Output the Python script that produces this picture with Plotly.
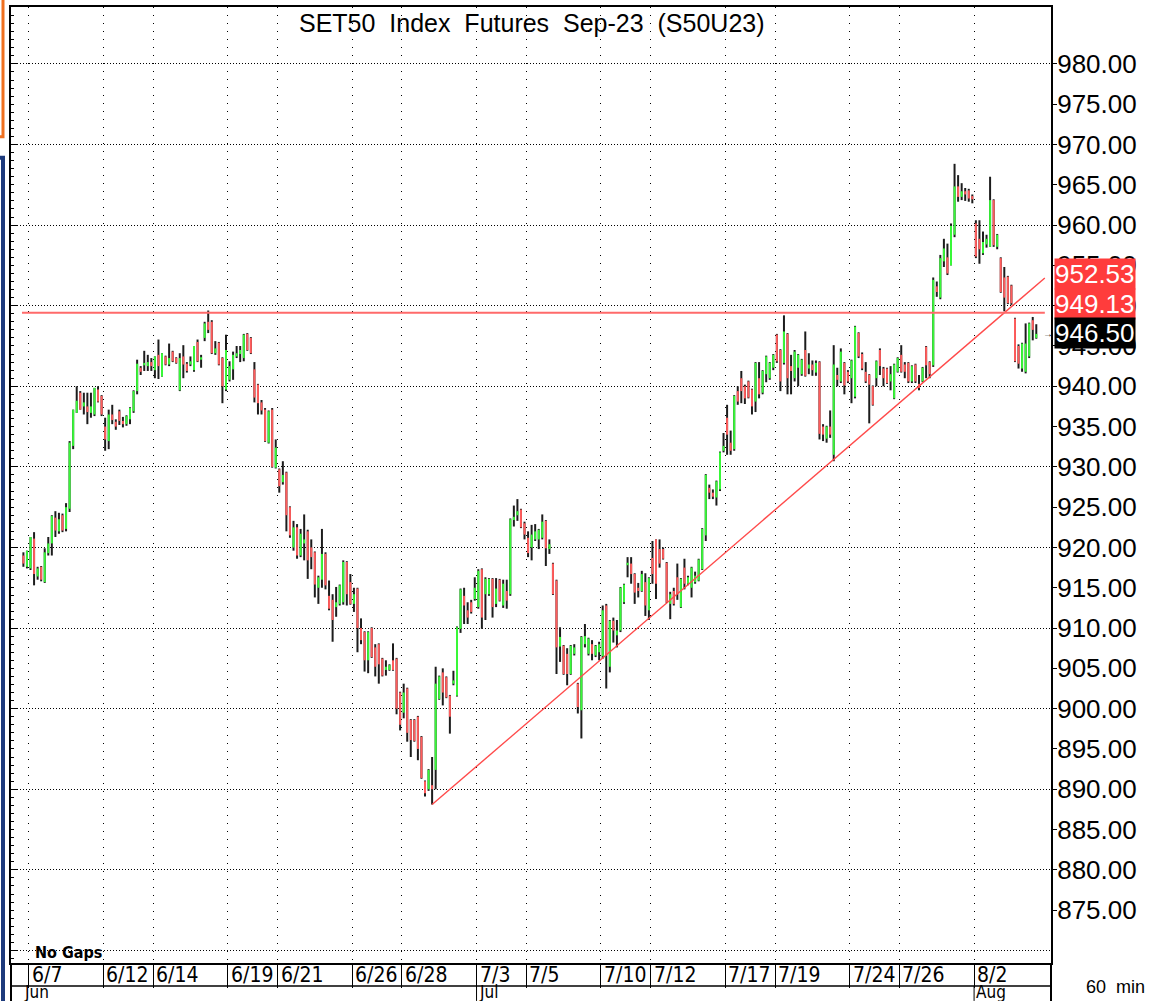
import plotly.graph_objects as go

# ---------------- data ----------------
trading_days = ["6/6", "6/7", "6/8", "6/9", "6/12", "6/13", "6/14", "6/15", "6/16",
                "6/19", "6/20", "6/21", "6/22", "6/23", "6/26", "6/27", "6/28", "6/29", "6/30",
                "7/3", "7/4", "7/5", "7/6", "7/7", "7/10", "7/11", "7/12", "7/13", "7/14",
                "7/17", "7/18", "7/19", "7/20", "7/21", "7/24", "7/25", "7/26", "7/27", "7/31",
                "8/2", "8/3", "8/4"]
bars_per_day = [2] + [7] * 40 + [4]
labeled_days = ["6/7", "6/12", "6/14", "6/19", "6/21", "6/26", "6/28", "7/3", "7/5",
                "7/10", "7/12", "7/17", "7/19", "7/24", "7/26", "8/2"]
month_names = ["Jun", "Jul", "Aug"]
month_first_days = ["6/6", "7/3", "8/2"]

opens = [
    919.0, 917.6,
    917.4, 921.1, 916.4, 917.6, 915.7, 919.3, 920.5,
    923.7, 922.0, 924.0, 922.3, 924.8, 932.6, 936.7,
    939.2, 937.5, 937.5, 936.7, 936.5, 939.6, 938.8,
    935.0, 933.2, 936.5, 935.6, 936.9, 935.7, 935.3,
    935.9, 936.9, 939.4, 942.3, 942.6, 942.5, 943.0,
    942.0, 943.9, 941.2, 943.7, 942.7, 944.3, 943.5,
    939.5, 943.7, 942.8, 942.7, 942.0, 945.5, 943.3,
    946.0, 948.0, 948.0, 944.1, 945.4, 943.5, 939.6,
    940.8, 942.1, 943.7, 944.0, 943.5, 946.5, 946.0,
    942.1, 940.2, 938.0, 937.1, 933.0, 937.1, 929.9,
    929.7, 928.1, 929.3, 925.0, 920.0, 922.5, 919.0,
    920.5, 922.0, 920.0, 919.4, 915.0, 916.0, 919.2,
    914.0, 913.5, 912.6, 913.0, 913.2, 918.2, 915.7,
    913.0, 914.9, 910.0, 909.5, 906.0, 910.0, 907.6,
    908.0, 906.2, 904.8, 904.8, 906.0, 906.2, 902.0,
    899.5, 902.5, 898.6, 898.6, 899.0, 896.5, 891.0,
    890.0, 890.5, 892.4, 901.2, 904.5, 903.9, 901.6,
    903.1, 901.6, 909.9, 914.0, 912.2, 913.2, 913.6,
    912.6, 917.3, 914.2, 914.2, 916.1, 913.0, 916.0,
    912.8, 914.6, 914.2, 923.4, 924.0, 924.7, 923.0,
    921.2, 920.0, 921.0, 921.0, 921.2, 923.3, 919.8,
    918.0, 915.9, 907.7, 907.8, 906.8, 904.3, 906.8,
    903.1, 899.8, 908.0, 906.8, 908.0, 906.6, 907.0,
    906.5, 912.8, 905.2, 910.9, 909.1, 909.7, 913.2,
    917.8, 918.0, 916.7, 915.0, 914.6, 915.7, 912.2,
    918.7, 921.0, 919.8, 919.8, 918.1, 913.0, 914.6,
    916.3, 912.6, 917.5, 915.5, 915.0, 915.7, 915.9,
    917.3, 921.5, 927.4, 926.8, 926.2, 927.2, 932.0,
    936.1, 933.0, 932.2, 939.4, 941.0, 940.0, 940.6,
    939.6, 938.1, 941.0, 939.2, 941.5, 941.0, 942.3,
    946.4, 944.5, 942.9, 946.5, 942.5, 941.0, 942.3,
    941.5, 944.5, 942.2, 942.7, 941.7, 943.0, 935.0,
    933.5, 935.0, 931.5, 941.4, 940.6, 942.9, 941.8,
    941.0, 938.7, 946.6, 944.0, 941.8, 941.4, 940.0,
    941.0, 944.5, 942.2, 942.2, 940.6, 938.5, 941.8,
    943.9, 942.7, 942.9, 940.6, 942.7, 940.3, 940.6,
    944.9, 943.0, 942.6, 952.4, 951.0, 955.5, 956.0,
    955.0, 958.8, 964.8, 963.5, 964.2, 964.3, 963.6,
    960.2, 958.3, 956.5, 957.6, 957.3, 963.1, 957.3,
    955.9, 953.5, 953.6, 952.5, 948.4, 945.0, 942.2,
    941.8, 943.7, 948.2, 946.0,
]
highs = [
    919.4, 919.6,
    921.3, 921.9, 917.6, 917.7, 919.9, 921.3, 924.0,
    924.5, 924.3, 924.2, 925.5, 933.2, 937.1, 940.0,
    939.4, 939.2, 939.2, 939.2, 939.8, 940.0, 938.9,
    936.1, 937.1, 937.7, 935.9, 937.1, 936.2, 936.4,
    937.4, 939.5, 943.3, 942.5, 944.4, 943.9, 943.5,
    943.7, 945.8, 944.1, 943.8, 945.3, 944.4, 943.6,
    944.1, 945.1, 943.0, 943.7, 945.0, 945.8, 943.9,
    948.0, 949.4, 948.2, 945.6, 945.5, 943.6, 946.4,
    943.1, 944.3, 945.0, 945.0, 946.5, 946.6, 946.1,
    943.0, 940.3, 938.3, 937.3, 937.0, 937.3, 933.4,
    929.8, 930.7, 929.4, 925.1, 923.3, 922.9, 922.3,
    924.1, 922.2, 921.0, 919.5, 916.5, 922.3, 919.4,
    915.9, 914.2, 915.1, 915.4, 918.4, 918.3, 916.7,
    915.0, 915.0, 911.2, 909.6, 909.6, 910.1, 908.0,
    908.1, 906.3, 906.0, 905.5, 908.1, 906.3, 902.1,
    903.1, 902.6, 898.7, 898.7, 899.1, 896.6, 891.1,
    892.5, 894.0, 905.2, 904.1, 905.0, 904.0, 901.7,
    904.7, 910.2, 914.9, 915.0, 913.2, 913.5, 916.3,
    917.3, 917.4, 916.3, 916.2, 916.2, 916.2, 916.1,
    916.0, 916.0, 923.6, 925.2, 926.0, 924.8, 923.2,
    922.0, 922.8, 922.9, 922.3, 924.1, 923.4, 921.0,
    918.1, 916.0, 910.1, 907.9, 907.5, 907.9, 908.0,
    903.2, 909.0, 910.5, 908.8, 908.5, 907.9, 908.3,
    912.8, 913.0, 911.0, 911.3, 911.0, 915.1, 915.5,
    918.8, 918.8, 916.8, 915.6, 917.1, 916.8, 916.3,
    920.8, 921.0, 921.0, 920.0, 918.2, 914.5, 915.0,
    918.0, 916.2, 918.6, 916.5, 917.6, 917.0, 918.6,
    922.4, 929.1, 927.8, 927.2, 928.3, 931.9, 934.2,
    937.7, 934.5, 938.9, 940.0, 941.9, 940.2, 940.7,
    939.7, 943.0, 943.0, 942.0, 943.8, 943.0, 944.0,
    946.5, 944.6, 948.8, 946.6, 943.9, 944.5, 944.0,
    943.4, 946.8, 944.1, 943.2, 943.2, 943.1, 935.3,
    935.1, 937.0, 945.1, 942.3, 944.7, 943.0, 942.0,
    943.3, 947.5, 946.7, 944.2, 943.0, 941.5, 940.1,
    943.2, 944.7, 942.4, 942.3, 942.5, 942.8, 943.6,
    945.1, 943.0, 943.0, 942.6, 942.8, 941.4, 942.4,
    945.0, 943.1, 953.5, 953.0, 956.3, 958.3, 957.7,
    960.2, 967.6, 966.2, 965.2, 964.6, 964.5, 963.8,
    960.6, 960.6, 959.2, 958.8, 966.0, 963.2, 958.9,
    956.0, 954.8, 953.7, 952.6, 948.5, 945.2, 945.4,
    947.8, 947.9, 948.6, 947.7,
]
lows = [
    917.6, 917.4,
    917.2, 915.3, 916.0, 915.8, 915.6, 919.0, 919.0,
    921.3, 921.7, 921.9, 922.0, 924.4, 932.2, 936.7,
    937.1, 936.5, 935.3, 936.1, 936.3, 938.0, 936.3,
    932.0, 932.2, 935.3, 934.6, 935.2, 934.9, 935.1,
    935.3, 936.7, 939.0, 941.4, 941.9, 941.9, 941.9,
    941.0, 940.9, 941.2, 942.6, 942.5, 943.0, 942.8,
    939.4, 941.0, 941.7, 942.5, 941.8, 943.0, 942.3,
    945.6, 946.6, 944.0, 943.9, 942.6, 937.9, 939.4,
    940.6, 940.8, 943.5, 943.0, 943.1, 944.4, 944.0,
    938.0, 936.5, 936.5, 933.1, 932.9, 929.9, 929.8,
    926.8, 927.8, 922.0, 921.2, 919.6, 918.6, 918.8,
    918.4, 916.1, 917.3, 913.8, 913.0, 915.0, 914.8,
    912.2, 908.3, 911.4, 912.8, 912.9, 912.8, 912.9,
    912.0, 907.0, 908.0, 904.6, 904.4, 906.3, 904.0,
    903.1, 904.0, 904.1, 904.7, 904.7, 899.3, 897.3,
    898.8, 895.9, 894.0, 895.9, 893.6, 891.3, 889.1,
    889.8, 888.1, 890.0, 901.1, 900.4, 901.3, 896.9,
    902.9, 901.5, 909.4, 910.5, 910.5, 911.8, 913.4,
    912.4, 909.9, 911.0, 914.0, 911.3, 912.6, 913.3,
    912.5, 912.4, 914.0, 922.6, 923.3, 922.4, 921.0,
    918.8, 918.4, 920.8, 919.8, 921.0, 917.7, 919.2,
    914.1, 904.3, 905.8, 904.2, 902.9, 904.2, 906.6,
    899.4, 896.3, 907.6, 906.6, 906.0, 906.4, 906.0,
    906.2, 902.5, 904.5, 908.2, 907.6, 909.5, 913.0,
    916.3, 915.5, 913.0, 913.8, 914.5, 911.5, 911.0,
    915.5, 913.6, 917.5, 918.5, 913.1, 911.1, 912.8,
    913.5, 912.5, 914.8, 915.3, 913.8, 915.5, 915.8,
    917.2, 920.8, 926.0, 926.0, 925.2, 927.0, 931.8,
    931.5, 931.5, 932.0, 937.7, 937.9, 937.8, 938.5,
    936.5, 936.8, 938.5, 939.0, 940.5, 940.8, 942.0,
    942.9, 939.4, 942.7, 939.0, 939.0, 940.6, 940.0,
    941.3, 941.2, 941.5, 941.3, 941.3, 933.4, 933.2,
    933.0, 933.6, 930.7, 940.0, 940.4, 939.0, 940.4,
    937.9, 938.5, 943.5, 942.0, 940.4, 935.4, 937.6,
    940.0, 941.4, 940.0, 940.3, 939.5, 938.4, 941.7,
    941.7, 941.0, 940.4, 940.4, 940.4, 939.5, 940.5,
    941.0, 941.0, 942.4, 951.1, 950.8, 954.8, 953.8,
    955.0, 958.5, 962.9, 963.1, 963.0, 962.9, 962.7,
    955.9, 955.2, 956.3, 957.2, 957.3, 957.3, 957.0,
    951.6, 949.3, 950.2, 950.1, 943.0, 942.2, 941.8,
    941.6, 943.5, 945.7, 945.9,
]
closes = [
    918.0, 919.6,
    921.3, 916.7, 917.4, 916.0, 919.4, 920.5, 923.9,
    922.1, 923.5, 922.1, 925.0, 933.0, 937.1, 938.2,
    937.1, 938.0, 936.8, 937.5, 939.8, 938.1, 936.5,
    933.4, 936.5, 935.8, 935.0, 935.7, 935.3, 936.3,
    937.3, 939.4, 942.8, 941.8, 942.9, 943.0, 942.5,
    943.7, 942.5, 944.1, 942.7, 943.5, 943.1, 942.9,
    943.5, 942.7, 941.9, 943.1, 945.0, 943.1, 943.6,
    947.8, 947.0, 944.1, 944.7, 942.7, 940.0, 944.5,
    942.5, 943.9, 944.1, 944.5, 946.4, 944.5, 944.1,
    938.6, 937.9, 937.0, 933.2, 936.9, 930.0, 932.4,
    927.6, 929.0, 924.0, 921.5, 922.5, 919.0, 921.7,
    921.0, 918.4, 918.8, 915.4, 916.3, 919.2, 915.3,
    912.4, 911.0, 913.2, 915.3, 918.2, 914.2, 913.0,
    914.2, 910.0, 908.5, 906.0, 909.5, 906.4, 905.2,
    905.5, 904.1, 905.2, 905.4, 904.8, 900.0, 898.0,
    902.0, 897.0, 896.1, 896.0, 895.0, 891.4, 889.5,
    892.4, 890.0, 903.1, 904.0, 902.0, 901.4, 899.0,
    903.5, 910.1, 914.8, 912.8, 911.3, 912.0, 915.0,
    917.1, 911.3, 916.1, 916.1, 912.6, 914.9, 913.4,
    915.5, 913.4, 923.5, 923.8, 924.5, 922.5, 921.6,
    919.3, 921.6, 922.0, 922.2, 923.2, 919.9, 920.4,
    914.2, 907.6, 908.9, 904.3, 904.3, 907.8, 907.6,
    900.2, 908.9, 909.0, 908.7, 906.8, 907.8, 908.0,
    912.2, 906.6, 910.9, 909.7, 909.7, 915.0, 915.4,
    918.1, 916.7, 914.4, 914.6, 916.7, 912.8, 916.2,
    916.7, 915.5, 918.0, 918.6, 913.2, 914.2, 913.0,
    914.2, 916.1, 915.5, 916.3, 917.5, 916.5, 918.5,
    922.3, 929.0, 926.8, 926.3, 928.2, 931.8, 932.6,
    934.0, 932.0, 938.8, 938.1, 939.4, 938.5, 938.6,
    937.5, 942.9, 939.0, 941.9, 943.7, 942.9, 943.9,
    943.1, 940.6, 946.8, 941.0, 941.9, 944.3, 943.9,
    943.3, 941.3, 942.7, 942.0, 942.9, 934.1, 934.0,
    935.0, 934.0, 942.7, 940.8, 944.3, 940.1, 940.6,
    943.2, 947.4, 943.7, 942.2, 940.6, 940.2, 937.7,
    943.1, 942.5, 941.0, 940.4, 941.5, 942.7, 943.5,
    941.8, 941.8, 940.6, 942.5, 940.6, 939.8, 942.3,
    942.6, 941.5, 953.2, 951.7, 955.9, 957.1, 954.0,
    959.9, 964.8, 963.5, 964.2, 963.8, 963.3, 963.2,
    956.1, 957.0, 957.9, 958.3, 963.1, 957.5, 958.8,
    951.7, 951.0, 950.3, 950.3, 943.1, 942.8, 945.3,
    945.3, 947.8, 947.0, 946.5,
]

resistance_level = 949.13
trend_anchor_bar = 115          # bar holding the 6/29 low
trend_anchor_price = 888.10
trend_last_value = 952.53       # trendline value at the last bar
last_price = 946.50
price_ticks = [875 + 5 * k for k in range(22)]   # 875 ... 980

# ---------------- geometry ----------------
W, H = 1155, 1001
ML, MR, MT, MB = 11, 104, 5, 38
PW, PH = W - ML - MR, H - MT - MB
PX_PER_BAR = 3.554
X0 = -(23.4 - ML) / PX_PER_BAR
X1 = X0 + PW / PX_PER_BAR
Y_TOP, Y_BOT = 987.06, 868.44


def pxx(px):
    return (px - ML) / PW


def pxy(py):
    return (H - MB - py) / PH


n = len(opens)
day_start = {}
p = 0
for d, k in zip(trading_days, bars_per_day):
    day_start[d] = p
    p += k

wick_x, wick_y, up_x, up_y, dn_x, dn_y = [], [], [], [], [], []
for i in range(n):
    wick_x += [i, i, None]
    wick_y += [lows[i], highs[i], None]
    if closes[i] >= opens[i]:
        up_x += [i, i, None]
        up_y += [opens[i], closes[i], None]
    else:
        dn_x += [i, i, None]
        dn_y += [opens[i], closes[i], None]

slope = (trend_last_value - trend_anchor_price) / ((n - 1) - trend_anchor_bar)
trend_end_x = n + 1.4
trend_end_y = trend_anchor_price + slope * (trend_end_x - trend_anchor_bar)

GREEN = "#38f838"
RED = "#ff5c5c"
WICK = "#1c1c1c"
LINE_RED = "#ff4a4a"
FONT = "Liberation Sans, Arial, sans-serif"
NARROW = "Liberation Sans Narrow, Arial Narrow, DejaVu Sans Condensed, sans-serif"

fig = go.Figure()
fig.add_trace(go.Scatter(x=wick_x, y=wick_y, mode="lines",
                         line=dict(color=WICK, width=2), hoverinfo="skip", showlegend=False))
fig.add_trace(go.Scatter(x=up_x, y=up_y, mode="lines",
                         line=dict(color=GREEN, width=2), hoverinfo="skip", showlegend=False))
fig.add_trace(go.Scatter(x=dn_x, y=dn_y, mode="lines",
                         line=dict(color=RED, width=2), hoverinfo="skip", showlegend=False))
fig.add_trace(go.Scatter(x=[-0.4, trend_end_x], y=[resistance_level, resistance_level],
                         mode="lines", line=dict(color="#ff6a6a", width=2),
                         yaxis="y2", hoverinfo="skip", showlegend=False))
fig.add_trace(go.Scatter(x=[trend_anchor_bar, trend_end_x], y=[trend_anchor_price, trend_end_y],
                         mode="lines", line=dict(color=LINE_RED, width=1.4),
                         hoverinfo="skip", showlegend=False))

bounds = [day_start[d] - 0.5 for d in labeled_days]

ROW_LINE = 986
shapes = []
# date row bottom line
shapes.append(dict(type="line", xref="paper", yref="paper", x0=0, x1=1,
                   y0=pxy(ROW_LINE), y1=pxy(ROW_LINE), line=dict(color="black", width=1.5)))
# borders extending down
for xp in (0, 1):
    shapes.append(dict(type="line", xref="paper", yref="paper", x0=xp, x1=xp,
                       y0=pxy(963), y1=pxy(1001), line=dict(color="black", width=2)))
# month dividers
for d in month_first_days[1:]:
    shapes.append(dict(type="line", xref="x", yref="paper", x0=day_start[d] - 0.5,
                       x1=day_start[d] - 0.5, y0=pxy(ROW_LINE), y1=pxy(1001),
                       line=dict(color="black", width=1)))
# window frame strips at far left
shapes.append(dict(type="rect", xref="paper", yref="paper", x0=pxx(-10), x1=pxx(3),
                   y0=pxy(135), y1=pxy(-10), line=dict(color="#f07020", width=3),
                   fillcolor="rgba(0,0,0,0)"))
shapes.append(dict(type="rect", xref="paper", yref="paper", x0=pxx(-10), x1=pxx(3),
                   y0=pxy(1010), y1=pxy(156), line=dict(color="#1d3a7c", width=4),
                   fillcolor="rgba(0,0,0,0)"))

annotations = []
annotations.append(dict(text="SET50\u00a0\u00a0Index\u00a0\u00a0Futures\u00a0\u00a0Sep-23\u00a0\u00a0(S50U23)",
                        xref="paper", yref="paper", x=pxx(532), y=pxy(21),
                        xanchor="center", yanchor="middle", showarrow=False,
                        font=dict(family=FONT, size=25, color="black")))
for d, b in zip(labeled_days, bounds):
    annotations.append(dict(text=d, xref="x", yref="paper", x=b, y=pxy(975),
                            xanchor="left", yanchor="middle", xshift=1, showarrow=False,
                            font=dict(family=NARROW, size=21, color="black")))
for m, d in zip(month_names, month_first_days):
    xm = max(day_start[d] - 0.5, X0 + 3)
    annotations.append(dict(text=m, xref="x", yref="paper", x=xm, y=pxy(1003),
                            xanchor="left", yanchor="bottom", xshift=1, showarrow=False,
                            borderpad=0,
                            font=dict(family=NARROW, size=17, color="black")))
annotations.append(dict(text="<b>No\u00a0Gaps</b>", xref="paper", yref="paper", x=pxx(33),
                        y=pxy(952), xanchor="left", yanchor="middle", showarrow=False,
                        font=dict(family=NARROW, size=16, color="black")))
annotations.append(dict(text="60\u00a0\u00a0min", xref="paper", yref="paper", x=pxx(1084),
                        y=pxy(987), xanchor="left", yanchor="middle", showarrow=False,
                        font=dict(family=FONT, size=18, color="black")))
for val, shift, bg in [(trend_last_value, 11, "#ff3c3c"), (resistance_level, 9, "#ff3c3c"),
                       (last_price, 1, "black")]:
    annotations.append(dict(text=f"{val:.2f}", xref="paper", yref="y", x=1, y=val,
                            xanchor="left", yanchor="middle", xshift=3, yshift=shift,
                            showarrow=False, bgcolor=bg, borderpad=0,
                            font=dict(family=FONT, size=26, color="white")))
annotations.append(dict(text="→", xref="x", yref="y", x=n + 2.2, y=last_price,
                        showarrow=False, font=dict(family=FONT, size=10, color="black")))

fig.update_layout(
    width=W, height=H,
    margin=dict(l=ML, r=MR, t=MT, b=MB, pad=0),
    paper_bgcolor="white", plot_bgcolor="white",
    showlegend=False,
    xaxis=dict(range=[X0, X1], tickvals=bounds, showticklabels=False,
               ticks="outside", ticklen=ROW_LINE - 963, tickcolor="black", tickwidth=1,
               showgrid=True, gridcolor="black", gridwidth=1, griddash="1px,7px",
               showline=True, linecolor="black", linewidth=2, mirror=True,
               zeroline=False, fixedrange=True),
    yaxis=dict(range=[Y_BOT, Y_TOP], side="right", tickvals=price_ticks,
               ticktext=[f"{v:.2f}" for v in price_ticks],
               tickfont=dict(family=FONT, size=26, color="black"),
               ticks="outside", ticklen=4, tickcolor="black", ticklabelstandoff=-5,
               showgrid=False, zeroline=False, showline=True, linecolor="black",
               linewidth=2),
    yaxis2=dict(range=[Y_BOT, Y_TOP], overlaying="y", side="left",
                tickmode="linear", tick0=870, dtick=10, showticklabels=False,
                ticks="inside", ticklen=6, tickcolor="black",
                minor=dict(ticks="inside", ticklen=3, dtick=1, tickcolor="black", showgrid=False),
                showgrid=True, gridcolor="black", gridwidth=1, griddash="1px,2px",
                zeroline=False, showline=True, linecolor="black", linewidth=2),
    shapes=shapes,
    annotations=annotations,
)

fig.write_html("out.html")
